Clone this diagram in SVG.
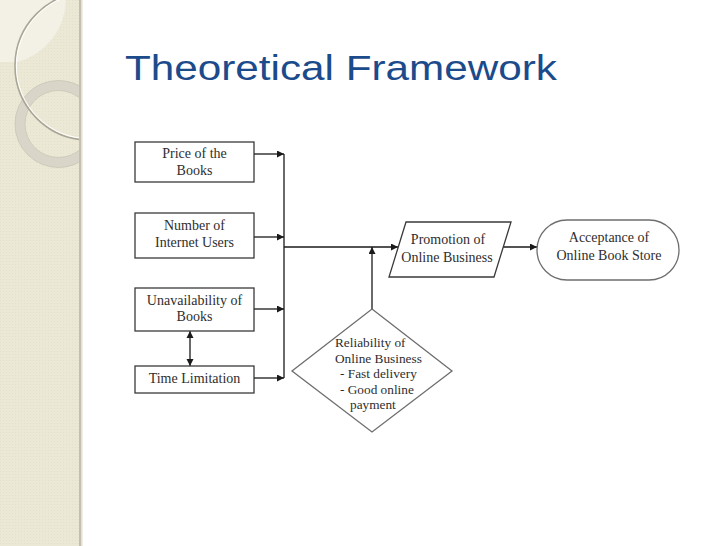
<svg xmlns="http://www.w3.org/2000/svg" width="728" height="546" viewBox="0 0 728 546">
  <style>
    .box { fill: #ffffff; stroke: #3a3a3a; stroke-width: 1.3; }
    .soft { fill: #ffffff; stroke: #6e6e6e; stroke-width: 1.3; }
    .lbl { font-family: "Liberation Serif", "Times New Roman", serif; font-size: 14px; fill: #2e2e2e; text-anchor: middle; }
    .dlbl { font-family: "Liberation Serif", "Times New Roman", serif; font-size: 13.3px; fill: #2e2e2e; white-space: pre; }
    .conn { stroke: #1a1a1a; stroke-width: 1.3; fill: none; }
    .title { font-family: "Liberation Sans", Arial, sans-serif; font-size: 35px; fill: #1c4b8c; }
  </style>
  <defs>
    <marker id="arr" markerUnits="userSpaceOnUse" markerWidth="8" markerHeight="8" refX="7" refY="3.5" orient="auto">
      <path d="M0,0 L7,3.5 L0,7 Z" fill="#1a1a1a"/>
    </marker>
    <marker id="arrStart" markerUnits="userSpaceOnUse" markerWidth="8" markerHeight="8" refX="0" refY="3.5" orient="auto">
      <path d="M7,0 L0,3.5 L7,7 Z" fill="#1a1a1a"/>
    </marker>
    <clipPath id="side">
      <rect x="0" y="0" width="79" height="546"/>
    </clipPath>
    <pattern id="tex" width="3" height="3" patternUnits="userSpaceOnUse">
      <rect width="3" height="3" fill="#ece8d6"/>
      <rect width="1" height="1" fill="#e4e0cc"/>
    </pattern>
  </defs>

  <!-- background -->
  <rect x="0" y="0" width="728" height="546" fill="#ffffff"/>

  <!-- sidebar -->
  <g id="sidebar">
    <rect x="0" y="0" width="80" height="546" fill="url(#tex)"/>
    <g clip-path="url(#side)">
      <path d="M0,0 H66 A66 66 0 0 1 17 62 H0 Z" fill="#f3f1e6"/>
      <circle cx="58.5" cy="124" r="38.5" fill="none" stroke="#d9d6c9" stroke-width="10"/>
      <circle cx="58.5" cy="124" r="43.5" fill="none" stroke="#c8c5b6" stroke-width="0.8"/>
      <circle cx="58.5" cy="124" r="33.5" fill="none" stroke="#c8c5b6" stroke-width="0.8"/>
      <circle cx="89" cy="66" r="74" fill="none" stroke="#a9a697" stroke-width="1.6"/>
      <circle cx="89" cy="66" r="72.6" fill="none" stroke="#ffffff" stroke-width="1"/>
    </g>
    <rect x="79" y="0" width="2" height="546" fill="#c4c0ad"/>
    <rect x="81" y="0" width="1.5" height="546" fill="#e2e0d8"/>
  </g>

  <!-- title -->
  <text class="title" x="125" y="80" textLength="432" lengthAdjust="spacingAndGlyphs">Theoretical Framework</text>

  <!-- connectors -->
  <g id="connectors">
    <line class="conn" x1="254" y1="154" x2="284" y2="154" marker-end="url(#arr)"/>
    <line class="conn" x1="254" y1="237" x2="284" y2="237" marker-end="url(#arr)"/>
    <line class="conn" x1="254" y1="309" x2="284" y2="309" marker-end="url(#arr)"/>
    <line class="conn" x1="254" y1="378" x2="284" y2="378" marker-end="url(#arr)"/>
    <line class="conn" x1="284" y1="154" x2="284" y2="378"/>
    <line class="conn" x1="284" y1="247" x2="398" y2="247" marker-end="url(#arr)"/>
    <line class="conn" x1="372" y1="309" x2="372" y2="247" marker-end="url(#arr)"/>
    <line class="conn" x1="503" y1="247" x2="537" y2="247" marker-end="url(#arr)"/>
    <line class="conn" x1="190" y1="331" x2="190" y2="366" marker-start="url(#arrStart)" marker-end="url(#arr)"/>
  </g>

  <!-- nodes -->
  <g id="price">
    <rect class="box" x="135" y="142" width="119" height="40"/>
    <text class="lbl" x="194.5" y="158">Price of the</text>
    <text class="lbl" x="194.5" y="175">Books</text>
  </g>
  <g id="users">
    <rect class="box" x="135" y="213" width="119" height="45"/>
    <text class="lbl" x="194.5" y="230">Number of</text>
    <text class="lbl" x="194.5" y="247">Internet Users</text>
  </g>
  <g id="unavailability">
    <rect class="box" x="135" y="288" width="119" height="43"/>
    <text class="lbl" x="194.5" y="305">Unavailability of</text>
    <text class="lbl" x="194.5" y="321">Books</text>
  </g>
  <g id="time">
    <rect class="box" x="135" y="366" width="119" height="27"/>
    <text class="lbl" x="194.5" y="383">Time Limitation</text>
  </g>
  <g id="promotion">
    <polygon class="box" points="406,222 511,222 494,277 389,277"/>
    <text class="lbl" x="448" y="244">Promotion of</text>
    <text class="lbl" x="447" y="262">Online Business</text>
  </g>
  <g id="acceptance">
    <rect class="soft" x="537" y="220" width="142" height="60" rx="30" ry="30"/>
    <text class="lbl" x="609" y="242">Acceptance of</text>
    <text class="lbl" x="609" y="260">Online Book Store</text>
  </g>
  <g id="reliability">
    <polygon class="soft" points="372,309 452,371 372,432 292,371"/>
    <text class="dlbl" x="335" y="347">Reliability of</text>
    <text class="dlbl" x="335" y="363">Online Business</text>
    <text class="dlbl" x="340" y="378">- Fast delivery</text>
    <text class="dlbl" x="340" y="394">- Good online</text>
    <text class="dlbl" x="350" y="409">payment</text>
  </g>
</svg>
